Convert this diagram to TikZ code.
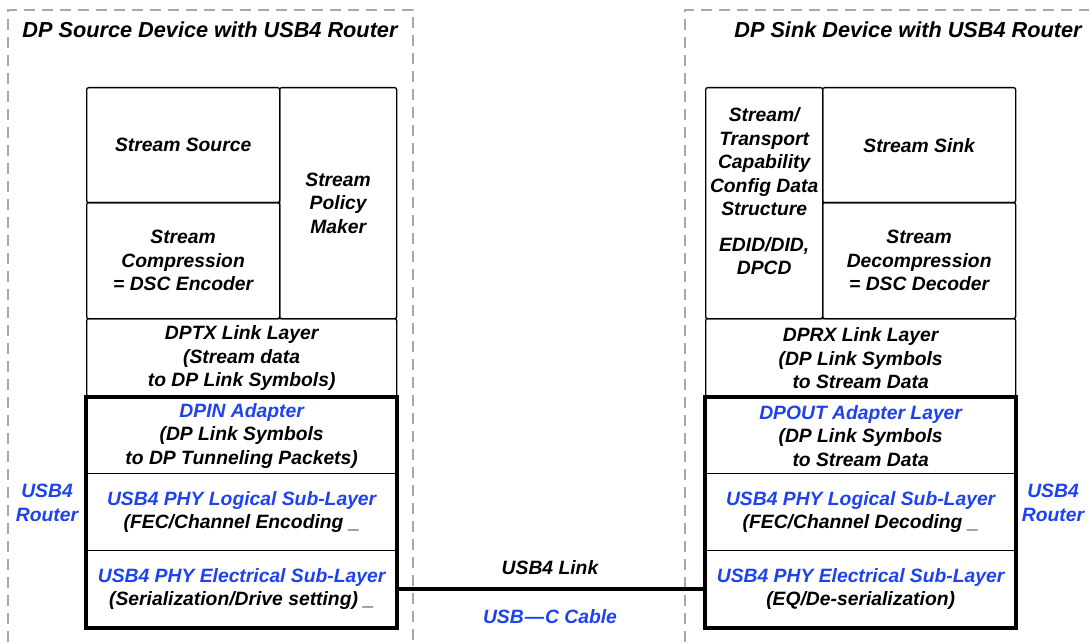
\documentclass[tikz,border=0pt]{standalone}
\usepackage{fontspec}
\setmainfont{Liberation Sans}
\usetikzlibrary{positioning}
\definecolor{usbblue}{RGB}{30,66,240}
\definecolor{dashgray}{RGB}{168,168,168}
\tikzset{
    device/.style = {
        draw=dashgray,
        line width=1.4pt,
        dash pattern=on 11pt off 7pt
    },
    layer/.style = {
        draw,
        line width=1.3pt,
        rounded corners=2pt,
        anchor=north west,
        inner sep=0pt,
        align=center,
        font=\fontsize{19.3}{23.5}\selectfont\bfseries\itshape
    },
    router/.style = {
        draw,
        line width=4pt
    },
    caption/.style = {
        align=center,
        font=\fontsize{19.3}{23.5}\selectfont\bfseries\itshape
    },
    title/.style = {
        font=\fontsize{21.7}{25}\selectfont\bfseries\itshape
    }
}

\begin{document}
\begin{tikzpicture}[x=1pt, y=-1pt]
    \useasboundingbox (0,0) rectangle (1089,644);
    \clip (0,0) rectangle (1089,644);

    % Draw device outlines
    \draw[device] (8,660) -- (8,10) -- (413,10) -- (413,660);
    \draw[device] (685,660) -- (685,10) -- (1100,10);
    \node[title] (srctitle) at (210,30) {DP Source Device with USB4 Router};
    \node[title] (snktitle) at (908,30) {DP Sink Device with USB4 Router};

    % Draw source stack
    \node[layer, minimum width=193, minimum height=115] (source) at (86,87) {Stream Source};
    \node[layer, minimum width=193, minimum height=116] (encoder) at (86,202) {Stream\\Compression\\= DSC Encoder};
    \node[layer, minimum width=117, minimum height=231] (policy) at (279,87) {Stream\\Policy\\Maker};
    \node[layer, minimum width=310, minimum height=79] (dptx) at (86,318) {DPTX Link Layer\\(Stream data\\to DP Link Symbols)};
    \node[layer, rounded corners=0pt, minimum width=310, minimum height=76] (dpin) at (86,397)
        {\textcolor{usbblue}{DPIN Adapter}\\(DP Link Symbols\\to DP Tunneling Packets)};
    \node[layer, rounded corners=0pt, minimum width=310, minimum height=77] (srclogic) at (86,473)
        {\textcolor{usbblue}{USB4 PHY Logical Sub-Layer}\\(FEC/Channel Encoding \_};
    \node[layer, rounded corners=0pt, minimum width=310, minimum height=77] (srcelec) at (86,550)
        {\textcolor{usbblue}{USB4 PHY Electrical Sub-Layer}\\(Serialization/Drive setting) \_};
    \draw[router] (dpin.north west) rectangle (srcelec.south east);

    % Draw sink stack
    \node[layer, minimum width=117, minimum height=231] (config) at (705,87) {};
    \node[caption] (configtext) at ([yshift=12pt]config.center)
        {Stream/\\Transport\\Capability\\Config Data\\Structure\\[12pt]EDID/DID,\\DPCD};
    \node[layer, minimum width=193, minimum height=115] (sink) at (822,87) {Stream Sink};
    \node[layer, minimum width=193, minimum height=116] (decoder) at (822,202) {Stream\\Decompression\\= DSC Decoder};
    \node[layer, minimum width=310, minimum height=79] (dprx) at (705,318) {DPRX Link Layer\\(DP Link Symbols\\to Stream Data};
    \node[layer, rounded corners=0pt, minimum width=310, minimum height=76] (dpout) at (705,397)
        {\textcolor{usbblue}{DPOUT Adapter Layer}\\(DP Link Symbols\\to Stream Data};
    \node[layer, rounded corners=0pt, minimum width=310, minimum height=77] (snklogic) at (705,473)
        {\textcolor{usbblue}{USB4 PHY Logical Sub-Layer}\\(FEC/Channel Decoding \_};
    \node[layer, rounded corners=0pt, minimum width=310, minimum height=77] (snkelec) at (705,550)
        {\textcolor{usbblue}{USB4 PHY Electrical Sub-Layer}\\(EQ/De-serialization)};
    \draw[router] (dpout.north west) rectangle (snkelec.south east);

    % Draw link
    \draw[router] (srcelec.east) -- (snkelec.west);
    \node[caption] (link) at (550,568) {USB4 Link};
    \node[caption, text=usbblue] (cable) at (550,617) {USB\kern1pt—\kern1pt C Cable};

    % Draw labels
    \node[caption, text=usbblue] (srcrouter) at (47,503) {USB4\\Router};
    \node[caption, text=usbblue] (snkrouter) at (1053,503) {USB4\\Router};
\end{tikzpicture}
\end{document}
